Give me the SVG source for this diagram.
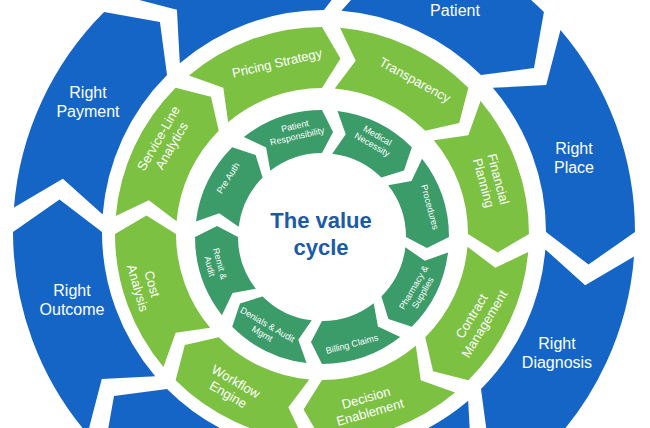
<svg xmlns="http://www.w3.org/2000/svg" width="650" height="428" viewBox="0 0 650 428">
<style>
.b{fill:#1565c7}
.g{fill:#7dc143}
.d{fill:#3b9b69}
text{font-family:"Liberation Sans",Arial,sans-serif;fill:#fff;text-anchor:middle}
.tb{font-size:16px}
.tg{font-size:13px}
.td{font-size:9px}
.tc{font-size:22px;font-weight:bold;fill:#1c5aa8}
</style>
<defs>
<path id="bs" d="M24.40,-310.04 A311,311 0 0 1 219.91,-219.91 L210.00,-164.07 L156.98,-156.98 A222,222 0 0 0 17.42,-221.32 L53.13,-261.15 Z"/>
<path id="gs" d="M18.04,-206.21 A207,207 0 0 1 146.37,-146.37 L137.17,-111.08 L103.24,-103.24 A146,146 0 0 0 12.73,-145.44 L33.68,-173.26 Z"/>
<path id="ds" d="M15.48,-126.05 A127,127 0 0 1 89.80,-89.80 L81.99,-66.39 L59.40,-59.40 A84,84 0 0 0 10.24,-83.37 L23.73,-102.80 Z"/>
</defs>
<rect width="650" height="428" fill="#fff"/>

<g id="blue-patient"><use href="#bs" class="b" transform="translate(324,232) rotate(0)"/><text class="tb" x="455" y="16">Patient</text></g>
<g id="blue-place"><use href="#bs" class="b" transform="translate(324,232) rotate(45)"/><text class="tb"><tspan x="574" y="154">Right</tspan><tspan x="574" y="173">Place</tspan></text></g>
<g id="blue-diagnosis"><use href="#bs" class="b" transform="translate(324,232) rotate(90)"/><text class="tb"><tspan x="557" y="349">Right</tspan><tspan x="557" y="368">Diagnosis</tspan></text></g>
<g id="blue-bottom-right"><use href="#bs" class="b" transform="translate(324,232) rotate(135)"/></g>
<g id="blue-bottom-left"><use href="#bs" class="b" transform="translate(324,232) rotate(180)"/></g>
<g id="blue-outcome"><use href="#bs" class="b" transform="translate(324,232) rotate(225)"/><text class="tb"><tspan x="72" y="296">Right</tspan><tspan x="72" y="315">Outcome</tspan></text></g>
<g id="blue-payment"><use href="#bs" class="b" transform="translate(324,232) rotate(270)"/><text class="tb"><tspan x="88" y="98">Right</tspan><tspan x="88" y="117">Payment</tspan></text></g>
<g id="blue-top"><use href="#bs" class="b" transform="translate(324,232) rotate(315)"/></g>

<g id="green-transparency"><use href="#gs" class="g" transform="translate(322,234) rotate(0)"/><text class="tg" transform="translate(415,80) rotate(29)" y="4.5">Transparency</text></g>
<g id="green-financial"><use href="#gs" class="g" transform="translate(322,234) rotate(45)"/><text class="tg" transform="translate(491,181) rotate(75)"><tspan x="0" y="-3">Financial</tspan><tspan x="0" y="12">Planning</tspan></text></g>
<g id="green-contract"><use href="#gs" class="g" transform="translate(322,234) rotate(90)"/><text class="tg" transform="translate(478,320) rotate(-59)"><tspan x="0" y="-3">Contract</tspan><tspan x="0" y="12">Management</tspan></text></g>
<g id="green-decision"><use href="#gs" class="g" transform="translate(322,234) rotate(135)"/><text class="tg" transform="translate(368,405) rotate(-16)"><tspan x="0" y="-3">Decision</tspan><tspan x="0" y="12">Enablement</tspan></text></g>
<g id="green-workflow"><use href="#gs" class="g" transform="translate(322,234) rotate(180)"/><text class="tg" transform="translate(232,388) rotate(30)"><tspan x="0" y="-3">Workflow</tspan><tspan x="0" y="12">Engine</tspan></text></g>
<g id="green-cost"><use href="#gs" class="g" transform="translate(322,234) rotate(225)"/><text class="tg" transform="translate(145,286) rotate(74)"><tspan x="0" y="-3">Cost</tspan><tspan x="0" y="12">Analysis</tspan></text></g>
<g id="green-serviceline"><use href="#gs" class="g" transform="translate(322,234) rotate(270)"/><text class="tg" transform="translate(165,142) rotate(-60)"><tspan x="0" y="-3">Service-Line</tspan><tspan x="0" y="12">Analytics</tspan></text></g>
<g id="green-pricing"><use href="#gs" class="g" transform="translate(322,234) rotate(315)"/><text class="tg" transform="translate(277,63) rotate(-13)" y="4.5">Pricing Strategy</text></g>

<g id="inner-medical"><use href="#ds" class="d" transform="translate(322,237) rotate(0)"/><text class="td" transform="translate(375,140) rotate(30)"><tspan x="0" y="-2">Medical</tspan><tspan x="0" y="8.5">Necessity</tspan></text></g>
<g id="inner-procedures"><use href="#ds" class="d" transform="translate(322,237) rotate(45)"/><text class="td" transform="translate(430,207) rotate(75)" y="3.2">Procedures</text></g>
<g id="inner-pharmacy"><use href="#ds" class="d" transform="translate(322,237) rotate(90)"/><text class="td" transform="translate(418,290) rotate(-60)"><tspan x="0" y="-2">Pharmacy &amp;</tspan><tspan x="0" y="8.5">Supplies</tspan></text></g>
<g id="inner-billing"><use href="#ds" class="d" transform="translate(322,237) rotate(135)"/><text class="td" transform="translate(352,344) rotate(-15)" y="3.2">Billing Claims</text></g>
<g id="inner-denials"><use href="#ds" class="d" transform="translate(322,237) rotate(180)"/><text class="td" transform="translate(265,329) rotate(30)"><tspan x="0" y="-2">Denials &amp; Audit</tspan><tspan x="0" y="8.5">Mgmt</tspan></text></g>
<g id="inner-remit"><use href="#ds" class="d" transform="translate(322,237) rotate(225)"/><text class="td" transform="translate(215,265) rotate(75)"><tspan x="0" y="-2">Remit &amp;</tspan><tspan x="0" y="8.5">Audit</tspan></text></g>
<g id="inner-preauth"><use href="#ds" class="d" transform="translate(322,237) rotate(270)"/><text class="td" transform="translate(228,178) rotate(-58)" y="3.2">Pre Auth</text></g>
<g id="inner-patientresp"><use href="#ds" class="d" transform="translate(322,237) rotate(315)"/><text class="td" transform="translate(296,131) rotate(-13)"><tspan x="0" y="-2">Patient</tspan><tspan x="0" y="8.5">Responsibility</tspan></text></g>

<g id="center-title"><text class="tc"><tspan x="321" y="228">The value</tspan><tspan x="321" y="255">cycle</tspan></text></g>
</svg>
